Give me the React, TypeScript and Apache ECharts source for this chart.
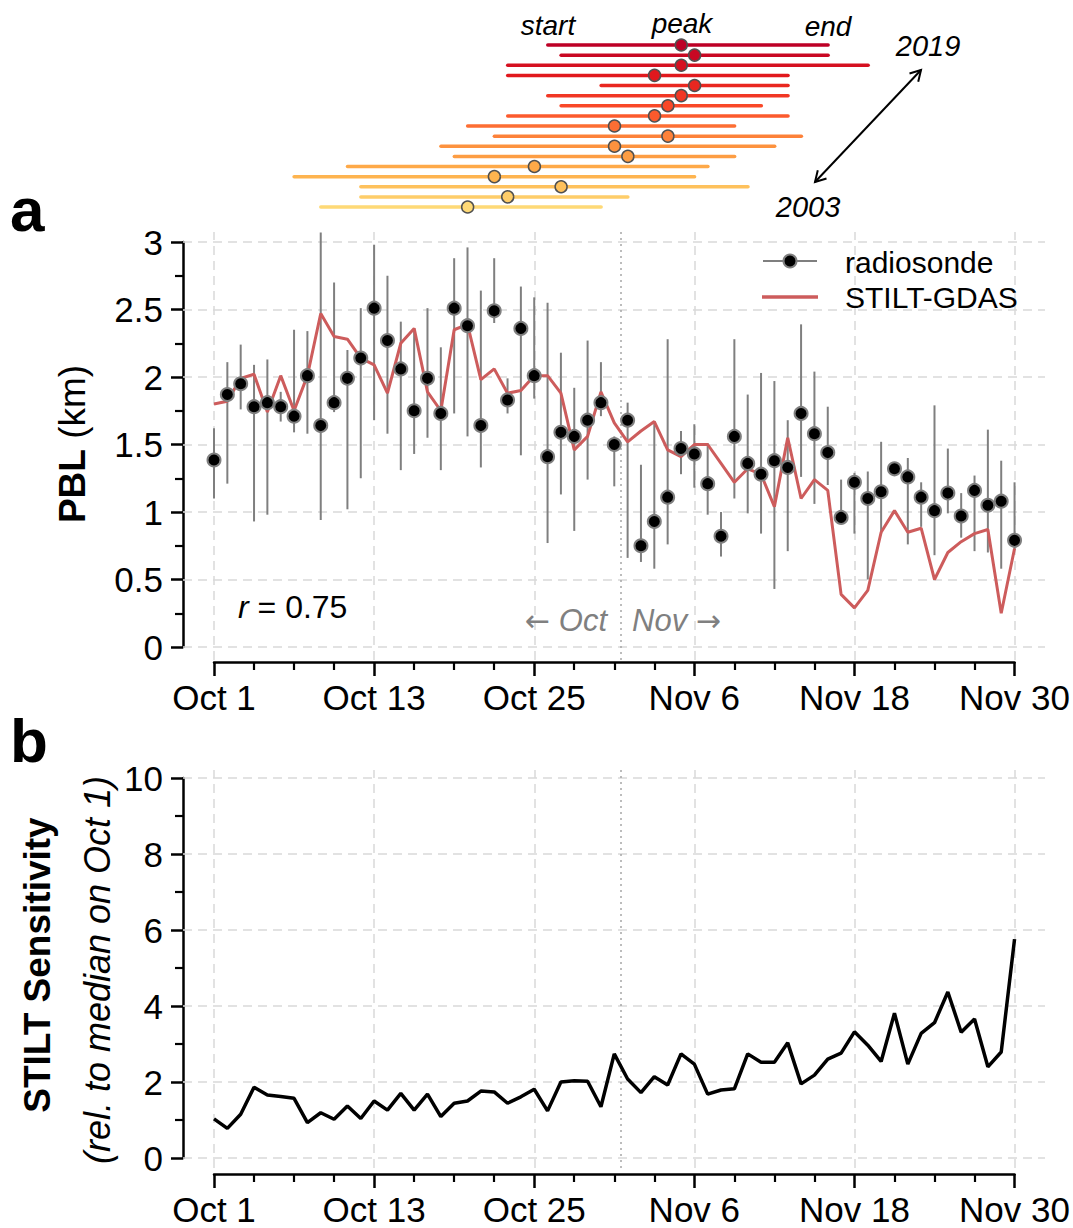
import React, { useEffect, useRef } from 'react';
import * as echarts from 'echarts';

// ---------------- data ----------------
// day offsets from Oct 1 (0 = Oct 1, 60 = Nov 30)
const days: number[] = Array.from({ length: 61 }, (_, i) => i);

const xTickDays = [0, 12, 24, 36, 48, 60];
const xTickLabels = ['Oct 1', 'Oct 13', 'Oct 25', 'Nov 6', 'Nov 18', 'Nov 30'];
const yTicksA = [0, 0.5, 1, 1.5, 2, 2.5, 3];
const yTicksB = [0, 2, 4, 6, 8, 10];
const monthBoundary = 30.5;

const radiosonde = [1.385, 1.87, 1.95, 1.78, 1.81, 1.78, 1.71, 2.01, 1.64, 1.81, 1.99, 2.14, 2.51, 2.27, 2.06, 1.75, 1.99, 1.73, 2.51, 2.38, 1.64, 2.49, 1.83, 2.36, 2.01, 1.41, 1.59, 1.56, 1.68, 1.81, 1.50, 1.68, 0.75, 0.93, 1.11, 1.47, 1.43, 1.21, 0.82, 1.56, 1.36, 1.28, 1.38, 1.33, 1.73, 1.58, 1.44, 0.96, 1.22, 1.10, 1.15, 1.32, 1.26, 1.11, 1.01, 1.14, 0.97, 1.16, 1.05, 1.08, 0.79];
const radiosondeHi = [1.62, 2.11, 2.24, 2.09, 2.13, 1.89, 2.35, 2.34, 3.07, 2.70, 2.20, 2.51, 2.98, 2.75, 2.41, 2.36, 2.51, 2.22, 2.88, 2.96, 2.64, 2.88, 1.99, 2.67, 2.59, 2.55, 2.18, 1.92, 2.27, 2.11, 1.56, 1.81, 1.35, 1.67, 2.28, 1.60, 1.65, 1.51, 1.00, 2.28, 1.87, 2.03, 1.97, 1.68, 2.39, 2.04, 1.78, 1.24, 1.29, 1.30, 1.52, 1.35, 1.40, 1.22, 1.79, 1.47, 1.14, 1.27, 1.61, 1.38, 1.22];
const radiosondeLo = [1.10, 1.21, 1.76, 0.93, 0.98, 1.67, 1.59, 1.58, 0.94, 1.74, 1.02, 1.25, 1.68, 1.58, 1.31, 1.43, 1.55, 1.31, 1.73, 1.56, 1.33, 2.40, 1.73, 1.42, 1.84, 0.77, 1.13, 0.86, 1.24, 1.71, 1.19, 0.66, 0.63, 0.58, 0.76, 1.28, 1.18, 0.98, 0.67, 1.10, 0.99, 0.84, 0.43, 0.71, 1.26, 1.06, 1.20, 0.92, 0.84, 0.50, 0.84, 1.28, 0.76, 0.89, 0.68, 0.99, 0.81, 0.71, 0.70, 0.58, 0.72];
const stiltGdas = [1.80, 1.82, 1.99, 2.02, 1.74, 2.01, 1.75, 2.01, 2.47, 2.30, 2.28, 2.14, 2.09, 1.88, 2.25, 2.36, 1.89, 1.75, 2.35, 2.39, 1.98, 2.06, 1.88, 1.90, 2.01, 2.01, 1.88, 1.46, 1.56, 1.89, 1.66, 1.52, 1.60, 1.67, 1.46, 1.41, 1.50, 1.50, 1.36, 1.22, 1.32, 1.28, 1.04, 1.55, 1.10, 1.24, 1.16, 0.39, 0.29, 0.42, 0.85, 1.01, 0.85, 0.88, 0.50, 0.70, 0.78, 0.84, 0.87, 0.25, 0.73];
const sensitivity = [1.03, 0.78, 1.15, 1.86, 1.66, 1.62, 1.57, 0.93, 1.19, 1.02, 1.37, 1.04, 1.50, 1.26, 1.70, 1.26, 1.68, 1.09, 1.44, 1.50, 1.76, 1.74, 1.44, 1.61, 1.81, 1.24, 2.00, 2.03, 2.02, 1.35, 2.74, 2.08, 1.72, 2.14, 1.92, 2.74, 2.47, 1.68, 1.79, 1.82, 2.74, 2.52, 2.52, 3.03, 1.95, 2.18, 2.60, 2.76, 3.32, 2.97, 2.54, 3.81, 2.47, 3.28, 3.56, 4.37, 3.31, 3.66, 2.40, 2.79, 5.76];

// seasonal timeline (day offsets from Oct 1)
const years = [2019, 2018, 2017, 2016, 2015, 2014, 2013, 2012, 2011, 2010, 2009, 2008, 2007, 2006, 2005, 2004, 2003];
const seasonStart = [25, 26, 22, 22, 29, 25, 26, 22, 19, 21, 17, 18, 10, 6, 11, 11, 8];
const seasonPeak = [35, 36, 35, 33, 36, 35, 34, 33, 30, 34, 30, 31, 24, 21, 26, 22, 19];
const seasonEnd = [46, 46, 49, 43, 43, 43, 41, 43, 39, 44, 42, 39, 37, 36, 40, 31, 29];

// ---------------- layout ----------------
const W = 1073;
const H = 1228;
const X0 = 214;
const X1 = 1015;
const PX_DAY = (X1 - X0) / 60;
const BG_L = 183;
const BG_R = 1045;
const A_TOP = 242;
const A_BOT = 647;
const A_PX = (A_BOT - A_TOP) / 3;
const A_BG_T = 232;
const A_BG_B = 660;
const B_TOP = 778;
const B_BOT = 1158;
const B_PX = (B_BOT - B_TOP) / 10;
const B_BG_T = 770;
const B_BG_B = 1168;
const T_TOP = 45;
const T_BOT = 207;
const FONT = '"Liberation Sans", Arial, Helvetica, sans-serif';
const TICK_FONT = 35;
const RED = '#cd5c5c';
const GREY = '#7f7f7f';

const ramp = ['#fed976', '#feb24c', '#fd8d3c', '#fc4e2a', '#e31a1c', '#bd0026'];
function hex(c: string) {
  return [1, 3, 5].map((i) => parseInt(c.slice(i, i + 2), 16));
}
function yearColor(yr: number) {
  const t = (yr - 2003) / 16;
  const s = t * (ramp.length - 1);
  const i = Math.min(Math.floor(s), ramp.length - 2);
  const f = s - i;
  const a = hex(ramp[i]);
  const b = hex(ramp[i + 1]);
  const m = a.map((v, k) => Math.round(v + (b[k] - v) * f));
  return `rgb(${m[0]},${m[1]},${m[2]})`;
}

const gridLineStyle = { color: '#d9d9d9', width: 1.5, type: [9, 6] as any };
const sepLineStyle = { color: '#a6a6a6', width: 1.5, type: [2, 4] as any };

function visibleX(gridIndex: number, offset: number) {
  return {
    gridIndex,
    type: 'value',
    min: 0,
    max: 60,
    interval: 12,
    offset,
    axisLine: { show: true, onZero: false, lineStyle: { color: '#000', width: 2.5 } },
    axisTick: { show: true, length: 14, lineStyle: { color: '#000', width: 2.5 } },
    minorTick: { show: true, splitNumber: 4, length: 8, lineStyle: { color: '#000', width: 2.2 } },
    axisLabel: {
      show: true,
      margin: 18,
      fontSize: TICK_FONT,
      color: '#000',
      fontFamily: FONT,
      formatter: (v: number) => {
        const k = xTickDays.indexOf(v);
        return k >= 0 ? xTickLabels[k] : '';
      },
    },
    splitLine: { show: false },
    minorSplitLine: { show: false },
  };
}

function visibleY(gridIndex: number, max: number, interval: number) {
  return {
    gridIndex,
    type: 'value',
    min: 0,
    max,
    interval,
    offset: X0 - BG_L,
    axisLine: { show: true, onZero: false, lineStyle: { color: '#000', width: 2.5 } },
    axisTick: { show: true, length: 12, lineStyle: { color: '#000', width: 2.5 } },
    minorTick: { show: true, splitNumber: 2, length: 8, lineStyle: { color: '#000', width: 2.2 } },
    axisLabel: { show: true, margin: 20, fontSize: TICK_FONT, color: '#000', fontFamily: FONT },
    splitLine: { show: false },
    minorSplitLine: { show: false },
  };
}

function gridSeries(xIdx: number, yIdx: number, yTicks: number[]) {
  return [
    {
      type: 'line',
      xAxisIndex: xIdx,
      yAxisIndex: yIdx,
      data: [[0, 0]],
      symbol: 'none',
      lineStyle: { width: 0, opacity: 0 },
      silent: true,
      z: 1,
      markLine: {
        silent: true,
        symbol: ['none', 'none'],
        label: { show: false },
        emphasis: { disabled: true },
        lineStyle: gridLineStyle,
        data: [...yTicks.map((v) => ({ yAxis: v })), ...xTickDays.map((v) => ({ xAxis: v }))],
      },
    },
    {
      type: 'line',
      xAxisIndex: xIdx,
      yAxisIndex: yIdx,
      data: [[0, 0]],
      symbol: 'none',
      lineStyle: { width: 0, opacity: 0 },
      silent: true,
      z: 2,
      markLine: {
        silent: true,
        symbol: ['none', 'none'],
        label: { show: false },
        emphasis: { disabled: true },
        lineStyle: sepLineStyle,
        data: [{ xAxis: monthBoundary }],
      },
    },
  ];
}

function txt(text: string, x: number, y: number, opts: any = {}) {
  const align = opts.align || 'center';
  const va = opts.va || 'middle';
  return {
    type: 'text',
    x,
    y,
    rotation: opts.rotation || 0,
    z: 100,
    style: {
      text,
      fill: opts.color || '#000',
      fontSize: opts.size || 30,
      fontFamily: FONT,
      fontStyle: opts.italic ? 'italic' : 'normal',
      fontWeight: opts.bold ? 'bold' : 'normal',
      textAlign: align,
      align,
      textVerticalAlign: va,
      verticalAlign: va,
      rich: opts.rich,
    },
  };
}

function arrowHead(tipX: number, tipY: number, fromX: number, fromY: number) {
  const dx = tipX - fromX;
  const dy = tipY - fromY;
  const len = Math.sqrt(dx * dx + dy * dy);
  const ux = dx / len;
  const uy = dy / len;
  const L = 12;
  const ang = Math.PI / 6;
  const p1 = [tipX - L * (ux * Math.cos(ang) - uy * Math.sin(ang)), tipY - L * (uy * Math.cos(ang) + ux * Math.sin(ang))];
  const p2 = [tipX - L * (ux * Math.cos(-ang) - uy * Math.sin(-ang)), tipY - L * (uy * Math.cos(-ang) + ux * Math.sin(-ang))];
  return {
    type: 'polyline',
    z: 100,
    shape: { points: [p1, [tipX, tipY], p2] },
    style: { stroke: '#000', lineWidth: 2, fill: 'none' },
  };
}

function buildOption() {
  const aYMin = -(A_BG_B - A_BOT) / A_PX;
  const aYMax = 3 + (A_TOP - A_BG_T) / A_PX;
  const bYMin = -(B_BG_B - B_BOT) / B_PX;
  const bYMax = 10 + (B_TOP - B_BG_T) / B_PX;
  const bgXMin = -(X0 - BG_L) / PX_DAY;
  const bgXMax = 60 + (BG_R - X1) / PX_DAY;
  const arrowRich = { ar: { fontFamily: '"DejaVu Sans", sans-serif', fontSize: 30, fontStyle: 'normal', fill: '#808080' } };

  return {
    animation: false,
    backgroundColor: '#fff',
    grid: [
      { left: X0, width: X1 - X0, top: T_TOP, height: T_BOT - T_TOP },
      { left: X0, width: X1 - X0, top: A_TOP, height: A_BOT - A_TOP },
      { left: BG_L, width: BG_R - BG_L, top: A_BG_T, height: A_BG_B - A_BG_T },
      { left: X0, width: X1 - X0, top: B_TOP, height: B_BOT - B_TOP },
      { left: BG_L, width: BG_R - BG_L, top: B_BG_T, height: B_BG_B - B_BG_T },
    ],
    xAxis: [
      { gridIndex: 0, type: 'value', min: 0, max: 60, show: false },
      visibleX(1, A_BG_B - A_BOT + 2),
      { gridIndex: 2, type: 'value', min: bgXMin, max: bgXMax, show: false },
      visibleX(3, 16),
      { gridIndex: 4, type: 'value', min: bgXMin, max: bgXMax, show: false },
    ],
    yAxis: [
      { gridIndex: 0, type: 'value', min: 2003, max: 2019, show: false },
      visibleY(1, 3, 0.5),
      { gridIndex: 2, type: 'value', min: aYMin, max: aYMax, show: false },
      visibleY(3, 10, 2),
      { gridIndex: 4, type: 'value', min: bYMin, max: bYMax, show: false },
    ],
    series: [
      ...gridSeries(2, 2, yTicksA),
      ...gridSeries(4, 4, yTicksB),
      // timeline
      {
        type: 'custom',
        xAxisIndex: 0,
        yAxisIndex: 0,
        z: 5,
        data: years.map((y, i) => [seasonStart[i], seasonPeak[i], seasonEnd[i], y]),
        encode: { x: [0, 1, 2], y: 3 },
        renderItem: (params: any, api: any) => {
          const s = api.value(0);
          const p = api.value(1);
          const e = api.value(2);
          const yr = api.value(3);
          const a = api.coord([s, yr]);
          const b = api.coord([e, yr]);
          const c = api.coord([p, yr]);
          const col = yearColor(yr);
          return {
            type: 'group',
            children: [
              { type: 'line', shape: { x1: a[0], y1: a[1], x2: b[0], y2: b[1] }, style: { stroke: col, lineWidth: 3.5, lineCap: 'round' } },
              { type: 'circle', shape: { cx: c[0], cy: c[1], r: 6 }, style: { fill: col, stroke: '#505050', lineWidth: 1.5 } },
            ],
          };
        },
      },
      // error bars
      {
        type: 'custom',
        name: 'radiosonde range',
        xAxisIndex: 1,
        yAxisIndex: 1,
        z: 5,
        data: days.map((d) => [d, radiosondeLo[d], radiosondeHi[d]]),
        encode: { x: 0, y: [1, 2] },
        renderItem: (params: any, api: any) => {
          const p1 = api.coord([api.value(0), api.value(1)]);
          const p2 = api.coord([api.value(0), api.value(2)]);
          return {
            type: 'line',
            shape: { x1: p1[0], y1: p1[1], x2: p2[0], y2: p2[1] },
            style: { stroke: GREY, lineWidth: 2 },
          };
        },
      },
      {
        type: 'line',
        name: 'STILT-GDAS',
        xAxisIndex: 1,
        yAxisIndex: 1,
        z: 6,
        data: days.map((d) => [d, stiltGdas[d]]),
        symbol: 'none',
        lineStyle: { color: RED, width: 3 },
      },
      {
        type: 'scatter',
        name: 'radiosonde',
        xAxisIndex: 1,
        yAxisIndex: 1,
        z: 7,
        data: days.map((d) => [d, radiosonde[d]]),
        symbol: 'circle',
        symbolSize: 13,
        itemStyle: { color: '#000', borderColor: GREY, borderWidth: 2, opacity: 1 },
      },
      {
        type: 'line',
        name: 'STILT Sensitivity',
        xAxisIndex: 3,
        yAxisIndex: 3,
        z: 6,
        data: days.map((d) => [d, sensitivity[d]]),
        symbol: 'none',
        lineStyle: { color: '#000', width: 3.5 },
      },
    ],
    graphic: [
      // timeline annotations
      txt('start', 548, 25, { italic: true, size: 28 }),
      txt('peak', 682, 23, { italic: true, size: 28 }),
      txt('end', 828, 26, { italic: true, size: 28 }),
      txt('2019', 928, 46, { italic: true, size: 29 }),
      txt('2003', 808, 207, { italic: true, size: 29 }),
      { type: 'line', z: 100, shape: { x1: 815, y1: 182, x2: 921, y2: 70 }, style: { stroke: '#000', lineWidth: 2 } },
      arrowHead(921, 70, 815, 182),
      arrowHead(815, 182, 921, 70),
      // panel letters
      txt('a', 10, 240, { bold: true, size: 62, align: 'left', va: 'bottom' }),
      txt('b', 10, 771, { bold: true, size: 62, align: 'left', va: 'bottom' }),
      // axis titles
      txt('{b|PBL} (km)', 72, 444, {
        size: 37,
        rotation: Math.PI / 2,
        rich: { b: { fontWeight: 'bold', fontSize: 37, fontFamily: FONT } },
      }),
      txt('STILT Sensitivity', 37, 965, { bold: true, size: 37, rotation: Math.PI / 2 }),
      txt('(rel. to median on Oct 1)', 97, 970, { italic: true, size: 36, rotation: Math.PI / 2 }),
      // annotations in panel a
      txt('{i|r} = 0.75', 238, 607, {
        size: 32,
        align: 'left',
        rich: { i: { fontStyle: 'italic', fontSize: 32, fontFamily: FONT } },
      }),
      txt('{ar|\u2190} Oct', 607, 620, { italic: true, size: 31, align: 'right', color: '#808080', rich: arrowRich }),
      txt('Nov {ar|\u2192}', 632, 620, { italic: true, size: 31, align: 'left', color: '#808080', rich: arrowRich }),
      // legend
      { type: 'line', z: 100, shape: { x1: 763, y1: 261, x2: 817, y2: 261 }, style: { stroke: GREY, lineWidth: 1.8 } },
      { type: 'circle', z: 101, shape: { cx: 790, cy: 261, r: 6.5 }, style: { fill: '#000', stroke: GREY, lineWidth: 2 } },
      txt('radiosonde', 845, 262, { size: 30, align: 'left' }),
      { type: 'line', z: 100, shape: { x1: 762, y1: 297, x2: 818, y2: 297 }, style: { stroke: RED, lineWidth: 3.5 } },
      txt('STILT-GDAS', 845, 297, { size: 30, align: 'left' }),
    ],
  };
}

export default function App() {
  const ref = useRef<HTMLDivElement>(null);
  useEffect(() => {
    if (!ref.current) return;
    const chart = echarts.init(ref.current, null, { renderer: 'svg', width: W, height: H });
    chart.setOption(buildOption() as any);
    return () => chart.dispose();
  }, []);
  return <div ref={ref} style={{ position: 'absolute', left: 0, top: 0, width: W, height: H, background: '#fff' }} />;
}
